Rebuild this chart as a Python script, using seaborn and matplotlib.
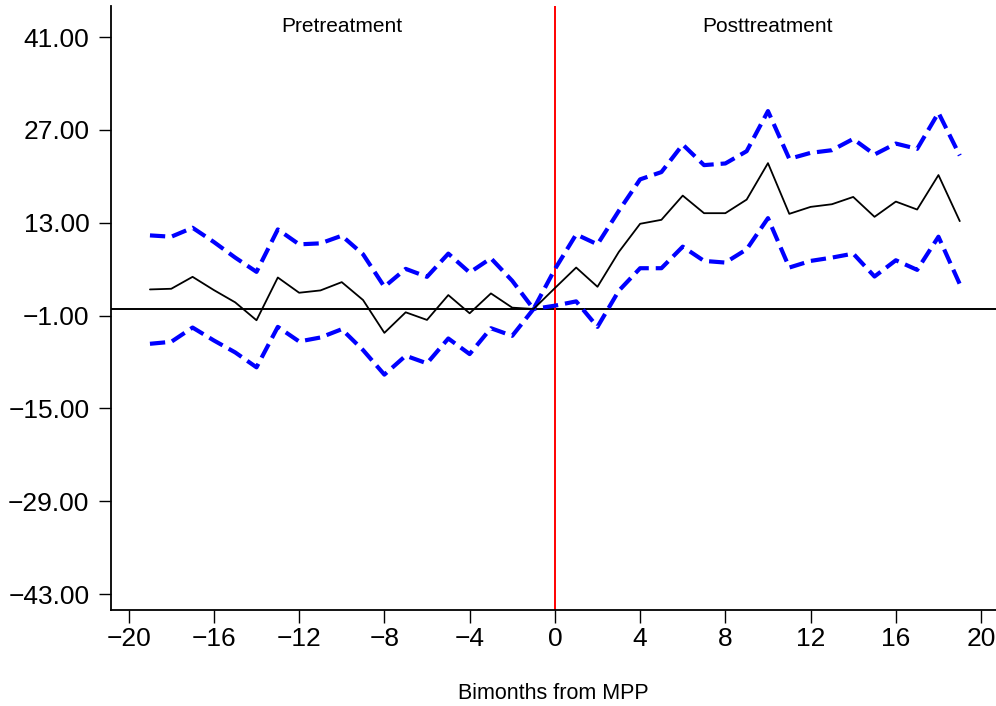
import numpy as np
import pandas as pd
import matplotlib
matplotlib.use("Agg")
import matplotlib.pyplot as plt
import seaborn as sns
from matplotlib.ticker import FuncFormatter

# Event-time axis: bimonths relative to MPP
bimonths = list(range(-19, 20))

# Point estimates and 95% confidence bounds
estimate = [2.95, 3.05, 4.85, 2.85, 1.0, -1.7, 4.75, 2.45, 2.8, 4.05,
            1.35, -3.6, -0.5, -1.65, 2.1, -0.65, 2.35, 0.2, 0.0,
            3.15, 6.25, 3.35, 8.6, 12.85, 13.45, 17.1, 14.45, 14.45, 16.5,
            22.0, 14.35, 15.4, 15.8, 16.9, 13.9, 16.2, 15.0, 20.2, 13.25]
upper = [11.1, 10.9, 12.25, 10.1, 7.75, 5.6, 12.0, 9.75, 9.9, 11.05,
         8.25, 3.35, 6.05, 4.85, 8.35, 5.5, 7.65, 4.25, 0.0,
         6.0, 11.25, 9.75, 14.8, 19.55, 20.65, 24.8, 21.7, 21.95, 23.8,
         29.85, 22.65, 23.55, 23.95, 25.65, 23.3, 24.95, 24.15, 29.6, 23.15]
lower = [-5.25, -4.95, -2.8, -4.75, -6.55, -8.8, -2.7, -4.9, -4.3, -3.05,
         -6.2, -9.9, -7.05, -8.2, -4.45, -6.8, -2.9, -4.05, 0.0,
         0.5, 1.15, -2.7, 2.75, 6.15, 6.15, 9.4, 7.25, 7.0, 9.0,
         13.7, 6.25, 7.25, 7.75, 8.35, 4.9, 7.35, 5.9, 10.9, 3.75]

y_ticks = [41, 27, 13, -1, -15, -29, -43]
x_ticks = list(range(-20, 21, 4))
period_labels = ["Pretreatment", "Posttreatment"]
period_label_x = [-10, 10]

df = pd.DataFrame({"t": bimonths, "est": estimate, "hi": upper, "lo": lower})

sns.set_theme(style="white")
plt.rcParams["font.family"] = ["Liberation Sans", "DejaVu Sans"]
plt.rcParams["lines.scale_dashes"] = False

fig = plt.figure(figsize=(9.96, 7.06), dpi=100)
ax = fig.add_axes([0.1114, 0.136, 0.8886, 0.8555])

ax.axhline(0, color="black", lw=1.4, zorder=1)
ax.axvline(0, color="#ff0000", lw=1.4, zorder=1)

sns.lineplot(data=df, x="t", y="hi", ax=ax, color="#0000ff", lw=3.0,
             linestyle=(0, (11, 5)), zorder=3)
sns.lineplot(data=df, x="t", y="lo", ax=ax, color="#0000ff", lw=3.0,
             linestyle=(0, (11, 5)), zorder=3)
sns.lineplot(data=df, x="t", y="est", ax=ax, color="black", lw=1.3, zorder=4)

ax.set_xlim(-20.83, 20.7)
ax.set_ylim(-45.4, 45.7)
ax.set_xticks(x_ticks)
ax.set_yticks(y_ticks)
ax.yaxis.set_major_formatter(
    FuncFormatter(lambda v, _: f"{v:.2f}".replace("-", "\u2212")))
ax.xaxis.set_major_formatter(
    FuncFormatter(lambda v, _: f"{v:.0f}".replace("-", "\u2212")))
ax.tick_params(axis="both", which="major", labelsize=19, length=9,
               width=1.0, color="black", labelcolor="black",
               bottom=True, left=True)
ax.tick_params(axis="x", pad=3)
ax.tick_params(axis="y", pad=6.5)

for side in ["top", "right"]:
    ax.spines[side].set_visible(False)
for side in ["left", "bottom"]:
    ax.spines[side].set_color("black")
    ax.spines[side].set_linewidth(1.3)

for label, xpos in zip(period_labels, period_label_x):
    ax.text(xpos, 41.8, label, ha="center", va="baseline", fontsize=15,
            color="black")

ax.set_xlabel("Bimonths from MPP", fontsize=15.5, color="black")
ax.set_ylabel("")
ax.xaxis.label.set_va("baseline")
ax.xaxis.set_label_coords(0.5, -0.147)

fig.savefig("out.png", dpi=100)
